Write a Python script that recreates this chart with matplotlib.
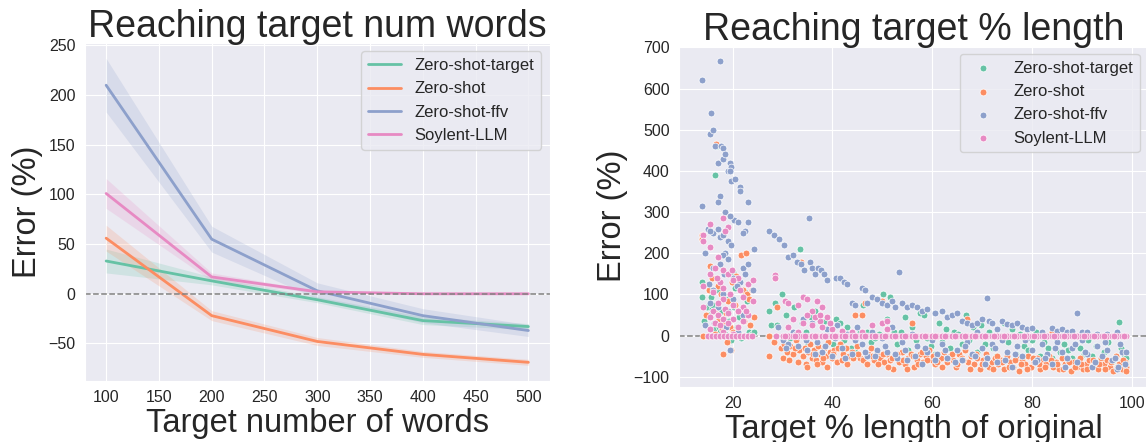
import matplotlib
matplotlib.use('Agg')
import matplotlib.pyplot as plt
import seaborn as sns

sns.set_style('darkgrid')
plt.rcParams['font.family'] = ['Liberation Sans', 'DejaVu Sans']

names = ['Zero-shot-target', 'Zero-shot', 'Zero-shot-ffv', 'Soylent-LLM']
colors = sns.color_palette('Set2', 4)

# left panel: mean error per target word count, with CI bounds
targets = [100, 200, 300, 400, 500]
mean_err = {
    'Zero-shot-target': [33, 13, -6, -27, -33],
    'Zero-shot': [56, -22, -48, -61, -69],
    'Zero-shot-ffv': [210, 55, 3, -22, -37],
    'Soylent-LLM': [101, 17, 2, 0, 0],
}
ci_low = {
    'Zero-shot-target': [21, 9, -9, -31, -36],
    'Zero-shot': [43, -27, -52, -64, -72],
    'Zero-shot-ffv': [183, 42, -5, -29, -43],
    'Soylent-LLM': [86, 13, 1, 0, 0],
}
ci_high = {
    'Zero-shot-target': [45, 17, -3, -23, -30],
    'Zero-shot': [69, -17, -44, -58, -66],
    'Zero-shot-ffv': [237, 68, 11, -15, -31],
    'Soylent-LLM': [116, 21, 3, 0, 0],
}

# right panel: (target % length, error %) per summary
zst_pts = [(13.8,130),(13.8,95),(14.2,35),(14.8,70),(15.3,50),(15.6,95),(15.8,65),(16.2,15),(16.5,390),
    (16.8,460),(17.0,110),(17.2,20),(17.5,10),(17.8,60),(18.2,40),(18.5,5),(18.8,90),(19.0,25),(19.3,35),
    (19.6,-10),(20.0,155),(20.4,115),(20.8,20),(21.2,45),(21.6,-5),(22.0,0),(22.4,105),(22.8,85),(23.2,10),
    (23.8,5),(24.2,10),(16.0,75),(18.0,30),(20.2,70),
    (27.3,60),(27.6,25),(28.4,80),(28.8,25),(29.8,100),(30.6,50),(31.5,-5),(32.2,70),(33.5,210),(33.9,30),
    (34.6,10),(35.2,-20),(35.8,45),(36.6,60),(37.3,40),(38.0,20),(38.6,35),(39.4,0),(40.2,-20),(40.8,40),
    (41.5,30),(42.3,-10),(43.0,20),(43.8,-30),(44.6,-40),(45.5,10),(46.2,75),(47.0,10),(47.8,-15),(48.6,-5),
    (49.4,5),(50.2,100),(51.0,40),(51.6,95),(52.4,10),(53.0,-20),(53.8,10),(54.5,45),(55.2,-35),(56.0,20),
    (56.8,-10),(57.6,55),(58.3,50),(59.0,-5),(59.8,-25),(60.6,-45),(61.4,30),(62.0,-15),(62.8,15),(63.6,-30),
    (64.4,10),(65.2,5),(66.0,-20),(66.8,50),(67.4,-10),(68.2,20),(69.0,-40),(69.8,25),(70.6,-20),(71.4,10),
    (72.2,-30),(72.8,-50),(73.6,0),(74.4,30),(75.2,-15),(76.0,15),(76.8,-45),(77.6,5),(78.4,-25),(79.2,-35),
    (80.0,-10),(80.8,10),(81.6,-50),(82.4,-15),(83.2,-30),(84.0,-55),(84.8,-5),(85.6,-40),(86.4,-20),
    (87.2,-35),(88.0,-55),(88.8,0),(89.6,-30),(90.4,-45),(91.2,-10),(92.0,-50),(92.8,-25),(93.6,-60),
    (94.4,-40),(95.2,-15),(96.0,-65),(96.8,-50),(97.4,32),(97.8,-30),(98.4,-45),(98.8,-55)]

zs_pts = [(13.8,245),(13.9,235),(14.0,0),(14.6,50),(15.2,110),(15.5,170),(15.9,140),(16.2,60),(16.5,5),
    (16.7,465),(17.0,120),(17.3,40),(17.6,100),(17.9,15),(18.0,-45),(18.3,30),(18.6,55),(18.8,-15),(19.1,85),
    (19.4,20),(19.6,-35),(19.8,130),(20.1,10),(20.4,75),(20.7,145),(21.0,60),(21.3,0),(21.6,195),(22.0,110),
    (22.2,35),(22.6,200),(22.9,100),(23.2,90),(23.5,25),(23.8,110),(24.2,45),
    (27.2,-50),(27.3,0),(28.4,140),(28.9,70),(28.2,-15),(29.6,-30),(30.3,-20),(30.8,-40),(31.4,-25),
    (32.0,-45),(32.6,-10),(33.2,-35),(33.6,180),(34.0,-50),(34.4,-30),(34.8,-70),(35.2,-40),(35.6,-20),
    (36.0,-55),(36.4,-35),(36.8,-60),(37.2,-25),(37.6,-45),(38.0,-65),(38.4,-30),(38.8,-50),(39.2,-15),
    (39.6,-40),(40.0,-55),(40.4,-35),(41.0,-65),(41.6,-20),(42.2,-45),(42.8,-30),(43.4,-50),(44.0,-40),
    (44.5,50),(45.0,-25),(45.6,-55),(46.0,50),(46.6,80),(47.2,-45),(47.8,-30),(48.4,-60),(49.0,-40),
    (49.6,-55),(50.0,85),(50.4,-65),(51.0,-45),(51.6,-60),(52.2,-80),(52.8,-50),(53.4,-65),(54.0,-40),
    (54.6,-70),(55.2,-55),(55.8,-45),(56.0,30),(56.4,-75),(57.0,-60),(57.6,-45),(58.2,-65),(58.8,-50),
    (59.4,-35),(60.0,-60),(60.6,-70),(61.2,-45),(61.8,-55),(62.4,-40),(63.0,-65),(63.6,-50),(64.2,-60),
    (64.8,-75),(65.4,-45),(66.0,-55),(66.6,-35),(67.0,40),(67.2,-65),(67.8,-50),(68.4,-70),(69.0,-55),
    (69.6,-80),(70.2,-60),(70.8,-45),(71.4,-75),(72.0,-65),(72.6,-55),(73.2,-70),(73.8,-60),(74.4,-80),
    (75.0,-50),(75.6,-65),(76.2,-75),(76.8,-55),(77.4,-85),(78.0,-60),(78.6,-70),(79.2,-50),(79.8,-75),
    (80.4,-65),(81.0,-55),(81.6,-80),(82.2,-60),(82.8,-70),(83.4,-50),(84.0,10),(84.2,-75),(84.8,-65),
    (85.4,-80),(86.0,-55),(86.6,-70),(87.2,-60),(87.8,-85),(88.4,-65),(89.0,-75),(89.6,-55),(90.2,-80),
    (90.8,-70),(91.4,-60),(92.0,-75),(92.6,-65),(93.2,-80),(93.8,-55),(94.4,-70),(95.0,-60),(95.6,-75),
    (96.2,-85),(96.8,-50),(97.4,-70),(98.0,-80),(98.6,-65),(98.9,-75),
    (30.0,-55),(31.2,-60),(32.4,-30),(33.0,-65),(35.0,-75),(36.2,-45),(37.0,-70),(38.2,-55),(39.0,-75),
    (40.2,-45),(41.2,-30),(42.0,-60),(43.0,-70),(44.2,-55),(45.2,-45),(46.2,-60),(47.0,-70),(48.0,-50),
    (49.2,-70),(50.2,-45),(51.2,-75),(52.0,-55),(53.0,-45),(54.2,-60),(55.0,-80),(56.2,-50),(57.2,-70),
    (58.0,-40),(59.0,-60),(60.2,-50),(61.0,-65),(62.0,-75),(63.2,-55),(64.0,-45),(65.0,-70),(66.2,-60),
    (67.6,-80),(68.8,-45),(70.0,-70),(71.0,-55),(72.2,-80),(73.0,-50),(74.0,-65),(75.4,-75),(76.6,-60),
    (77.8,-70),(79.0,-80),(80.2,-55),(81.4,-70),(82.6,-75),(83.8,-60),(85.0,-70),(86.2,-80),(87.4,-65),
    (88.6,-75),(89.8,-70),(91.0,-80),(92.2,-60),(93.4,-70),(94.6,-80),(95.8,-65),(97.0,-75),(98.2,-60),
    (98.8,-85)]

ffv_pts = [(13.9,620),(13.9,315),(14.4,200),(15.0,260),(15.4,490),(15.6,540),(16.0,500),(16.4,460),
    (17.0,420),(17.5,667),(17.4,340),(17.0,325),(17.6,460),(18.0,455),(18.1,430),(18.5,440),(19.0,400),
    (19.4,420),(19.6,410),(19.5,400),(19.6,375),(20.5,380),(21.4,360),(21.5,350),(23.0,325),(22.5,255),
    (22.0,250),(20.2,280),(21.0,275),(23.0,275),(18.5,300),(19.5,290),(17.5,240),(18.0,245),(19.0,230),
    (19.6,220),(16.0,250),(15.5,255),(17.0,260),(18.5,200),(18.0,195),(17.5,175),(19.0,185),(16.0,165),
    (18.2,150),(20.0,140),(22.0,165),(23.0,175),(24.2,210),(24.0,110),(22.5,150),(21.5,130),(16.0,110),
    (18.0,100),(20.0,90),(15.5,80),(17.0,70),(19.0,60),(22.0,50),(19.5,-35),(16.2,30),(18.6,20),(21.0,10),
    (14.5,25),(15.2,125),(20.8,120),
    (27.2,255),(28.2,245),(29.2,235),(30.2,220),(31.0,190),(32.0,195),(32.8,180),(33.6,175),(34.2,160),
    (35.4,285),(35.5,180),(36.0,165),(36.6,150),(37.2,165),(37.8,160),(38.4,150),(39.0,135),(40.8,140),
    (41.6,140),(42.4,130),(43.0,125),(44.0,80),(44.6,75),(46.0,115),(46.5,110),(47.0,80),(48.0,95),
    (49.0,90),(50.0,80),(51.0,75),(52.0,85),(52.6,70),(53.4,155),(54.0,80),(55.0,70),(56.0,75),(57.0,70),
    (58.0,60),(59.0,65),(60.6,55),(62.0,60),(63.0,45),(64.0,50),(65.0,55),(66.0,35),(67.0,30),(68.0,25),
    (69.0,30),(70.0,40),(71.0,92),(71.4,35),(72.0,30),(73.0,15),(74.0,35),(75.0,28),(76.0,25),(77.0,30),
    (78.0,20),(79.0,15),(80.0,18),(82.0,10),(84.0,18),(85.0,12),(86.0,15),(87.0,10),(88.0,12),(89.0,55),
    (90.0,10),(91.0,8),(93.0,5),(95.0,5),(97.0,8),
    (29.0,20),(30.0,-10),(31.0,-20),(32.0,10),(33.0,-25),(34.0,40),(35.0,-35),(36.0,30),(37.0,-15),
    (38.0,-40),(39.0,15),(40.0,-50),(41.0,25),(42.0,-30),(43.0,5),(44.0,-45),(45.0,20),(46.0,-20),
    (47.0,-50),(48.0,10),(49.0,-35),(50.0,-5),(51.0,-40),(52.0,20),(53.0,-55),(54.0,-15),(55.0,-60),
    (56.0,5),(57.0,-25),(58.0,-70),(59.0,-40),(60.0,-10),(61.0,-45),(62.0,-20),(63.0,-55),(64.0,0),
    (65.0,-35),(66.0,-60),(67.0,-15),(68.0,-45),(69.0,10),(70.0,-30),(71.0,-55),(72.0,-20),(73.0,-65),
    (74.0,-10),(75.0,-40),(76.0,-75),(77.0,-25),(78.0,-50),(79.0,-5),(80.0,-35),(81.0,-60),(82.0,-20),
    (83.0,-45),(84.0,-70),(85.0,-15),(86.0,-40),(87.0,-55),(88.0,-30),(89.0,-65),(90.0,-10),(91.0,-45),
    (92.0,-75),(93.0,-25),(94.0,-50),(95.0,-35),(96.0,-60),(97.0,-80),(98.0,-40),(98.6,-70),(97.6,-20),
    (96.6,-55),(94.6,-15),(92.6,-65),(90.6,-40),(88.6,-20),(86.6,-75),(84.6,-30),(82.6,-55),(80.6,-65),
    (78.6,-10),(76.6,-45),(74.6,-60),(72.6,-30),(70.6,-70),(68.6,-50),(66.6,-25),(64.6,-65),(62.6,-35),
    (60.6,-60),(58.6,-30),(56.6,-50),(54.6,-35),(52.6,-45),(50.6,-25),(48.6,-50),(46.6,-40),(44.6,-10),
    (42.6,-55),(40.6,-5),(38.6,-25),(36.6,-45),(34.6,-10),(32.6,5),(30.6,-30),(98.8,-40),(97.2,-75)]

soy_pts = [(18.0,285),(15.5,270),(19.0,265),(18.5,255),(14.0,245),(14.0,230),(15.5,215),(17.0,190),
    (16.5,165),(18.0,160),(15.5,150),(19.0,150),(21.0,140),(20.0,135),(17.5,130),(23.0,125),(14.0,120),
    (18.0,115),(21.5,110),(16.0,105),(19.5,100),(22.0,95),(18.0,90),(24.0,85),(17.0,80),(20.0,75),(22.0,70),
    (14.0,70),(18.5,65),(16.0,60),(21.0,60),(19.0,55),(17.0,50),(23.0,50),(15.5,45),(20.0,40),(18.0,40),
    (22.0,35),(16.5,30),(19.0,30),(17.5,25),(21.0,20),(15.5,15),(18.0,10),(20.0,5),(24.0,135),(16.8,140),
    (19.8,160),(22.6,60),
    (28.5,148),(28.5,140),(30.5,85),(31.0,80),(34.0,95),(35.0,90),(37.0,85),(33.0,75),(38.0,70),(36.0,60),
    (35.0,50),(39.0,45),(32.0,40),(37.5,35),(34.0,30),(36.0,25),(38.0,20),(40.0,15),(33.0,10),(36.5,45),
    (39.5,30),(37.5,50),(31.0,20),(42.0,12),(44.0,8),(50.0,30),(48.0,25),(51.0,15),(46.0,10),(51.0,35),
    (15.0,0),(15.8,0),(16.6,0),(17.4,0),(18.2,0),(19.0,0),(19.8,0),(20.6,0),(21.4,0),(22.2,0),(23.0,0),
    (23.8,0),(28.6,0),(30.0,0),(31.0,0),(32.0,0),(33.0,0),(34.0,0),(35.0,0),(36.0,0),(37.0,0),(38.0,0),
    (39.0,0),(40.0,0),(41.0,0),(42.0,0),(43.0,0),(44.0,0),(45.0,0),(46.0,0),(47.0,0),(48.0,0),(49.0,0),
    (50.0,0),(51.0,0),(52.0,0),(53.0,0),(54.0,0),(55.0,0),(56.0,0),(57.0,0),(58.0,0),(59.0,0),(60.0,0),
    (61.0,0),(62.0,0),(63.0,0),(64.0,0),(65.0,0),(66.0,0),(67.0,0),(68.0,0),(69.0,0),(70.0,0),(71.0,0),
    (72.0,0),(73.0,0),(74.0,0),(75.0,0),(76.0,0),(77.0,0),(78.0,0),(79.0,0),(80.0,0),(81.0,0),(82.0,0),
    (83.0,0),(84.0,0),(85.0,0),(86.0,0),(87.0,0),(88.0,0),(89.0,0),(90.0,0),(91.0,0),(92.0,0),(93.0,0),
    (94.0,0),(95.0,0),(96.0,0),(97.0,0),(98.0,0),(98.8,0),
    (30.5,0),(32.5,0),(34.5,0),(36.5,0),(38.5,0),(40.5,0),(42.5,0),(44.5,0),(46.5,0),(48.5,0),(50.5,0),
    (52.5,0),(54.5,0),(56.5,0),(58.5,0),(60.5,0),(62.5,0),(64.5,0),(66.5,0),(68.5,0),(70.5,0),(72.5,0),
    (74.5,0),(76.5,0),(78.5,0),(80.5,0),(82.5,0),(84.5,0),(86.5,0),(88.5,0),(90.5,0),(92.5,0),(94.5,0),
    (96.5,0),(98.4,0)]

scatter_pts = {
    'Zero-shot-target': zst_pts,
    'Zero-shot': zs_pts,
    'Zero-shot-ffv': ffv_pts,
    'Soylent-LLM': soy_pts,
}

fig = plt.figure(figsize=(11.46, 4.42), dpi=100)
ax1 = fig.add_axes([0.0742, 0.1387, 0.4053, 0.764])
ax2 = fig.add_axes([0.5928, 0.1251, 0.4090, 0.7715])

# left: line plot with CI bands
for name, c in zip(names, colors):
    ax1.fill_between(targets, ci_low[name], ci_high[name], color=c, alpha=0.2, linewidth=0)
    ax1.plot(targets, mean_err[name], color=c, linewidth=2, label=name)
ax1.axhline(0, color='grey', linestyle='--', linewidth=1.1)
ax1.set_xlim(80, 520)
ax1.set_ylim(-87.5, 252.5)
ax1.set_xticks(range(100, 501, 50))
ax1.set_title('Reaching target num words', fontsize=27, pad=4)
ax1.set_xlabel('Target number of words', fontsize=23.5, labelpad=2)
ax1.set_ylabel('Error (%)', fontsize=23.5)
ax1.tick_params(labelsize=11.5)
ax1.legend(loc='upper right', fontsize=12)

# right: scatter
for name, c in zip(names, colors):
    xs = [p[0] for p in scatter_pts[name]]
    ys = [p[1] for p in scatter_pts[name]]
    ax2.scatter(xs, ys, s=24, color=c, edgecolors='white', linewidths=0.5, label=name, zorder=3)
ax2.axhline(0, color='grey', linestyle='--', linewidth=1.1, zorder=2)
ax2.set_xlim(9.3, 103.3)
ax2.set_ylim(-124, 704)
ax2.set_xticks([20, 40, 60, 80, 100])
ax2.set_title('Reaching target % length', fontsize=27, pad=4)
ax2.set_xlabel('Target % length of original', fontsize=23.5, labelpad=2)
ax2.set_ylabel('Error (%)', fontsize=23.5)
ax2.tick_params(labelsize=11.5)
ax2.legend(loc='upper right', fontsize=12)

fig.savefig('out.png', dpi=100)
